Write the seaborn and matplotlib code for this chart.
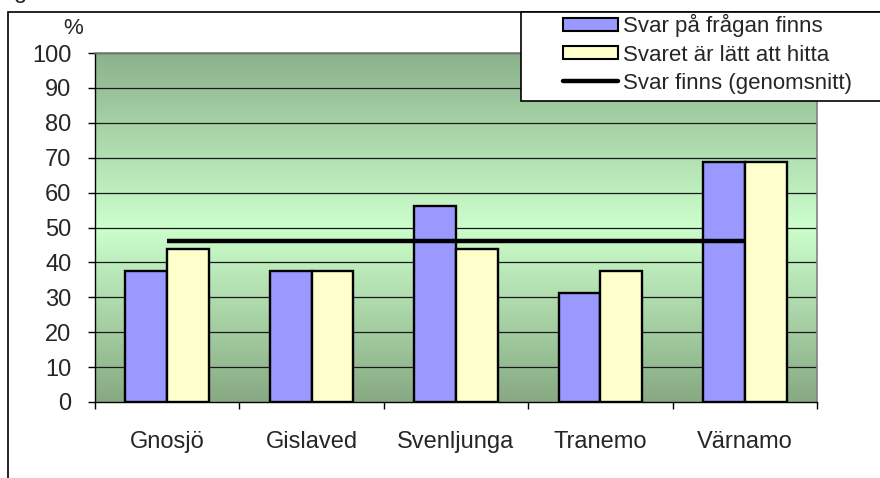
import numpy as np
import pandas as pd
import matplotlib
matplotlib.use("Agg")
import matplotlib.pyplot as plt
import seaborn as sns
from matplotlib.colors import LinearSegmentedColormap
from matplotlib.patches import Patch, Rectangle
from matplotlib.lines import Line2D
from matplotlib.ticker import FixedLocator

# data
kommuner = ["Gnosjö", "Gislaved", "Svenljunga", "Tranemo", "Värnamo"]
svar_finns = [37.5, 37.5, 56.25, 31.25, 68.75]
latt_hitta = [43.75, 37.5, 43.75, 37.5, 68.75]
genomsnitt = [46.25, 46.25, 46.25, 46.25, 46.25]
serier = ["Svar på frågan finns", "Svaret är lätt att hitta"]
snitt_namn = "Svar finns (genomsnitt)"
y_ticks = list(range(0, 101, 10))

df = pd.DataFrame({
    "kommun": kommuner * 2,
    "andel": svar_finns + latt_hitta,
    "serie": [serier[0]] * 5 + [serier[1]] * 5,
})

sns.set_theme(style="white")
plt.rcParams["font.family"] = ["Liberation Sans", "DejaVu Sans"]

W, H = 880, 478
fig = plt.figure(figsize=(W / 100, H / 100), dpi=100)
ax = fig.add_axes([95 / W, 1 - 402 / H, (817 - 95) / W, (402 - 53) / H])

# gradient background, light in the middle
cmap = LinearSegmentedColormap.from_list(
    "bg", [(0.0, "#87a983"), (0.5, "#ccffcc"), (1.0, "#8cb28c")])
grad = np.linspace(0, 1, 256).reshape(-1, 1)
ax.imshow(grad, cmap=cmap, aspect="auto", extent=[-0.5, 4.5, 0, 100],
          origin="lower", zorder=0)

bar_colors = ["#9999ff", "#ffffcc"]
sns.barplot(data=df, x="kommun", y="andel", hue="serie", hue_order=serier,
            palette=bar_colors, width=0.58, gap=0, edgecolor="black",
            linewidth=1.7, saturation=1, legend=False, ax=ax, zorder=2)

ax.plot(np.arange(len(kommuner)), genomsnitt, color="black", lw=3.2,
        solid_capstyle="butt", zorder=4)

ax.set_xlim(-0.5, 4.5)
ax.set_ylim(0, 100)
ax.set_xlabel("")
ax.set_ylabel("")

ax.set_yticks(y_ticks)
ax.set_yticklabels([str(v) for v in y_ticks], fontsize=17)
for v in y_ticks[1:]:
    ax.axhline(v, color="#1a1a1a", lw=0.9, zorder=1)

ax.set_xticks(range(len(kommuner)))
ax.set_xticklabels(kommuner, fontsize=17)
ax.xaxis.set_minor_locator(FixedLocator(np.arange(-0.5, 5, 1)))
ax.tick_params(axis="x", which="major", length=0, pad=21)
ax.tick_params(axis="x", which="minor", bottom=True, length=5, width=1,
               color="black", direction="out")
ax.tick_params(axis="y", left=True, length=5, width=1, color="black",
               direction="out", pad=12)

for side in ["left", "bottom"]:
    ax.spines[side].set_color("black")
    ax.spines[side].set_linewidth(1)
for side in ["top", "right"]:
    ax.spines[side].set_color("#808080")
    ax.spines[side].set_linewidth(1.2)

fig.text(83 / W, 1 - 28 / H, "%", fontsize=16, ha="right", va="center")
# cut-off title fragment at the very top
fig.text(14 / W, 1 + 2 / H, "g", fontsize=17, va="baseline")

# outer chart frame (runs off the right and bottom edges)
fig.add_artist(Rectangle((8 / W, -0.2), 1.5, 1.2 - 12 / H,
                         transform=fig.transFigure, fill=False,
                         edgecolor="black", lw=1.2, zorder=3))

# legend box
fig.add_artist(Rectangle((521 / W, 1 - 101 / H), 1.0, 89 / H,
                         transform=fig.transFigure, facecolor="white",
                         edgecolor="black", lw=1.2, zorder=4))
handles = [
    Patch(facecolor=bar_colors[0], edgecolor="black", lw=1.5, label=serier[0]),
    Patch(facecolor=bar_colors[1], edgecolor="black", lw=1.5, label=serier[1]),
    Line2D([0], [0], color="black", lw=3.2, label=snitt_namn),
]
leg = fig.legend(handles=handles, loc="upper left",
                 bbox_to_anchor=(550 / W, 1 - 1 / H), frameon=False,
                 fontsize=16, handlelength=2.45, handleheight=0.55,
                 handletextpad=0.25, labelspacing=0.32, borderpad=0.1)
leg.set_zorder(6)

fig.savefig("out.png", dpi=100)
